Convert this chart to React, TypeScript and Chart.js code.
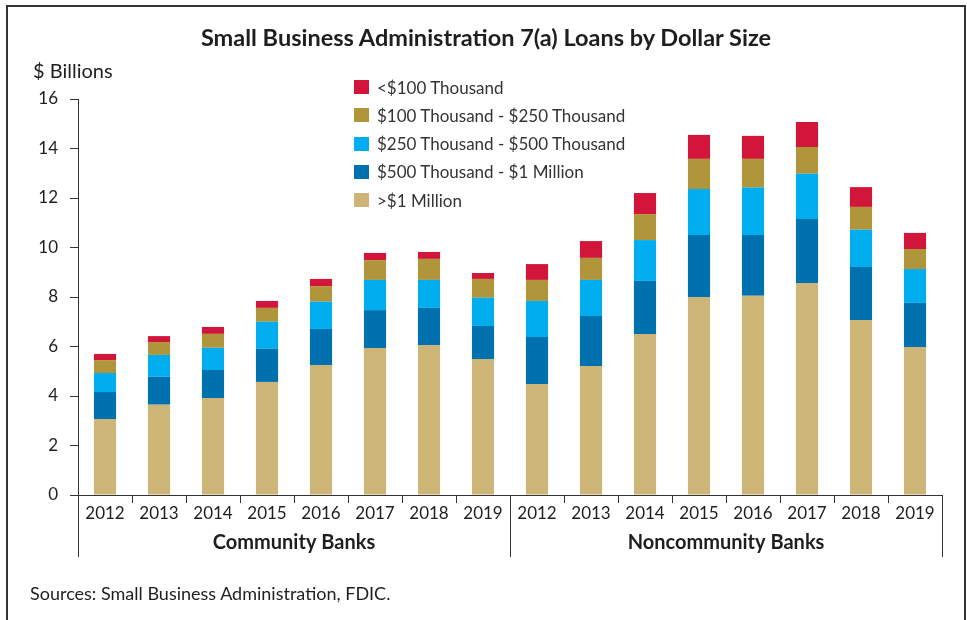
import React, { useEffect, useRef } from "react";
import { Chart, registerables } from "chart.js";

Chart.register(...registerables);

const years = ["2012", "2013", "2014", "2015", "2016", "2017", "2018", "2019"];
const groups = ["Community Banks", "Noncommunity Banks"];

// Community banks ($ billions)
const commOver1M = [3.07, 3.65, 3.92, 4.57, 5.25, 5.94, 6.06, 5.49];
const comm500kTo1M = [1.09, 1.13, 1.13, 1.34, 1.46, 1.53, 1.5, 1.34];
const comm250kTo500k = [0.77, 0.88, 0.9, 1.09, 1.1, 1.22, 1.13, 1.14];
const comm100kTo250k = [0.52, 0.52, 0.56, 0.56, 0.63, 0.8, 0.85, 0.76];
const commUnder100k = [0.25, 0.24, 0.28, 0.28, 0.29, 0.29, 0.28, 0.24];

// Noncommunity banks ($ billions)
const nonOver1M = [4.48, 5.21, 6.51, 8.0, 8.05, 8.57, 7.07, 5.98];
const non500kTo1M = [1.9, 2.02, 2.14, 2.51, 2.46, 2.58, 2.14, 1.78];
const non250kTo500k = [1.46, 1.46, 1.65, 1.85, 1.91, 1.83, 1.51, 1.37];
const non100kTo250k = [0.85, 0.89, 1.05, 1.22, 1.16, 1.08, 0.92, 0.81];
const nonUnder100k = [0.64, 0.68, 0.85, 0.97, 0.93, 1.01, 0.8, 0.65];

const seriesNames = [
  ">$1 Million",
  "$500 Thousand - $1 Million",
  "$250 Thousand - $500 Thousand",
  "$100 Thousand - $250 Thousand",
  "<$100 Thousand",
];
const seriesColors = ["#CDB577", "#0071AF", "#00AEEF", "#B0953A", "#D2153A"];

const yTicks = [0, 2, 4, 6, 8, 10, 12, 14, 16];

const FONT = "Lato, 'Noto Sans', sans-serif";
const INK = "#1e1e1e";

const groupPlugin = {
  id: "groupAxis",
  afterDraw(chart: any) {
    const ctx = chart.ctx;
    const x = chart.scales.x;
    const bottom = chart.chartArea.bottom;
    const n = x.ticks.length;
    const per = n / groups.length;
    ctx.save();
    ctx.strokeStyle = "#333333";
    ctx.lineWidth = 1;
    for (let i = 0; i <= n; i++) {
      const px = Math.round(x.getPixelForValue(i - 0.5)) + 0.5;
      const isGroup = i % per === 0;
      ctx.beginPath();
      ctx.moveTo(px, bottom);
      ctx.lineTo(px, bottom + (isGroup ? 62 : 8));
      ctx.stroke();
    }
    ctx.fillStyle = INK;
    ctx.font = "bold 20px " + FONT;
    ctx.textAlign = "center";
    ctx.textBaseline = "middle";
    groups.forEach((g, gi) => {
      const a = x.getPixelForValue(gi * per - 0.5);
      const b = x.getPixelForValue((gi + 1) * per - 0.5);
      ctx.fillText(g, (a + b) / 2, bottom + 48);
    });
    ctx.restore();
  },
};

export default function App() {
  const ref = useRef<HTMLCanvasElement | null>(null);

  useEffect(() => {
    document.body.style.margin = "0";
    const labels = [...years, ...years];
    const series = [
      [...commOver1M, ...nonOver1M],
      [...comm500kTo1M, ...non500kTo1M],
      [...comm250kTo500k, ...non250kTo500k],
      [...comm100kTo250k, ...non100kTo250k],
      [...commUnder100k, ...nonUnder100k],
    ];
    const chart = new Chart(ref.current as HTMLCanvasElement, {
      type: "bar",
      data: {
        labels,
        datasets: series.map((d, i) => ({
          label: seriesNames[i],
          data: d,
          backgroundColor: seriesColors[i],
          borderWidth: 0,
          barPercentage: 0.41,
          categoryPercentage: 1,
        })),
      },
      options: {
        animation: false,
        responsive: false,
        maintainAspectRatio: false,
        layout: { padding: { left: 0, top: 99, right: 25, bottom: 0 } },
        plugins: {
          legend: { display: false },
          title: { display: false },
          tooltip: { enabled: false },
        },
        scales: {
          x: {
            stacked: true,
            offset: true,
            grid: { display: false, drawTicks: false },
            border: { display: true, color: "#333333", width: 1 },
            ticks: {
              color: INK,
              font: { family: FONT, size: 17 },
              padding: 8,
              maxRotation: 0,
              autoSkip: false,
            },
            afterFit(scale: any) {
              scale.height = 125;
            },
          },
          y: {
            stacked: true,
            min: 0,
            max: 16,
            afterBuildTicks(scale: any) {
              scale.ticks = yTicks.map((v) => ({ value: v }));
            },
            grid: {
              drawOnChartArea: false,
              drawTicks: true,
              tickLength: 8,
              color: "#333333",
            },
            border: { display: true, color: "#333333", width: 1 },
            ticks: {
              color: INK,
              font: { family: FONT, size: 17 },
              padding: 12,
            },
            afterFit(scale: any) {
              scale.width = 78;
            },
          },
        },
      },
      plugins: [groupPlugin],
    });
    return () => chart.destroy();
  }, []);

  const legendRows = [...seriesNames].reverse();
  const legendColors = [...seriesColors].reverse();

  return (
    <div
      style={{
        position: "fixed",
        left: 0,
        top: 0,
        width: 967,
        height: 620,
        background: "#ffffff",
        overflow: "hidden",
        fontFamily: FONT,
        color: INK,
      }}
    >
      <canvas
        ref={ref}
        width={967}
        height={620}
        style={{ position: "absolute", left: 0, top: 0, width: 967, height: 620 }}
      />
      <div
        style={{
          position: "absolute",
          left: 6,
          top: 5,
          width: 960,
          height: 700,
          boxSizing: "border-box",
          borderLeft: "2px solid #333",
          borderTop: "2px solid #333",
          borderRight: "2px solid #333",
          pointerEvents: "none",
        }}
      />
      <div
        style={{
          position: "absolute",
          left: 0,
          width: 972,
          top: 24,
          textAlign: "center",
          fontSize: 23.5,
          fontWeight: 700,
          lineHeight: "26px",
          whiteSpace: "nowrap",
        }}
      >
        Small Business Administration 7(a) Loans by Dollar Size
      </div>
      <div
        style={{
          position: "absolute",
          left: 33,
          top: 58,
          fontSize: 20,
          lineHeight: "24px",
          whiteSpace: "nowrap",
        }}
      >
        $ Billions
      </div>
      {legendRows.map((name, i) => (
        <div
          key={name}
          style={{
            position: "absolute",
            left: 354,
            top: 87 + i * 28.3 - 10,
            height: 20,
            display: "flex",
            alignItems: "center",
            whiteSpace: "nowrap",
            fontSize: 17,
            color: "#333",
          }}
        >
          <span
            style={{
              display: "inline-block",
              width: 15,
              height: 14,
              background: legendColors[i],
              marginRight: 8,
            }}
          />
          <span>{name}</span>
        </div>
      ))}
      <div
        style={{
          position: "absolute",
          left: 30,
          top: 581,
          fontSize: 18,
          lineHeight: "24px",
          whiteSpace: "nowrap",
        }}
      >
        Sources: Small Business Administration, FDIC.
      </div>
    </div>
  );
}
